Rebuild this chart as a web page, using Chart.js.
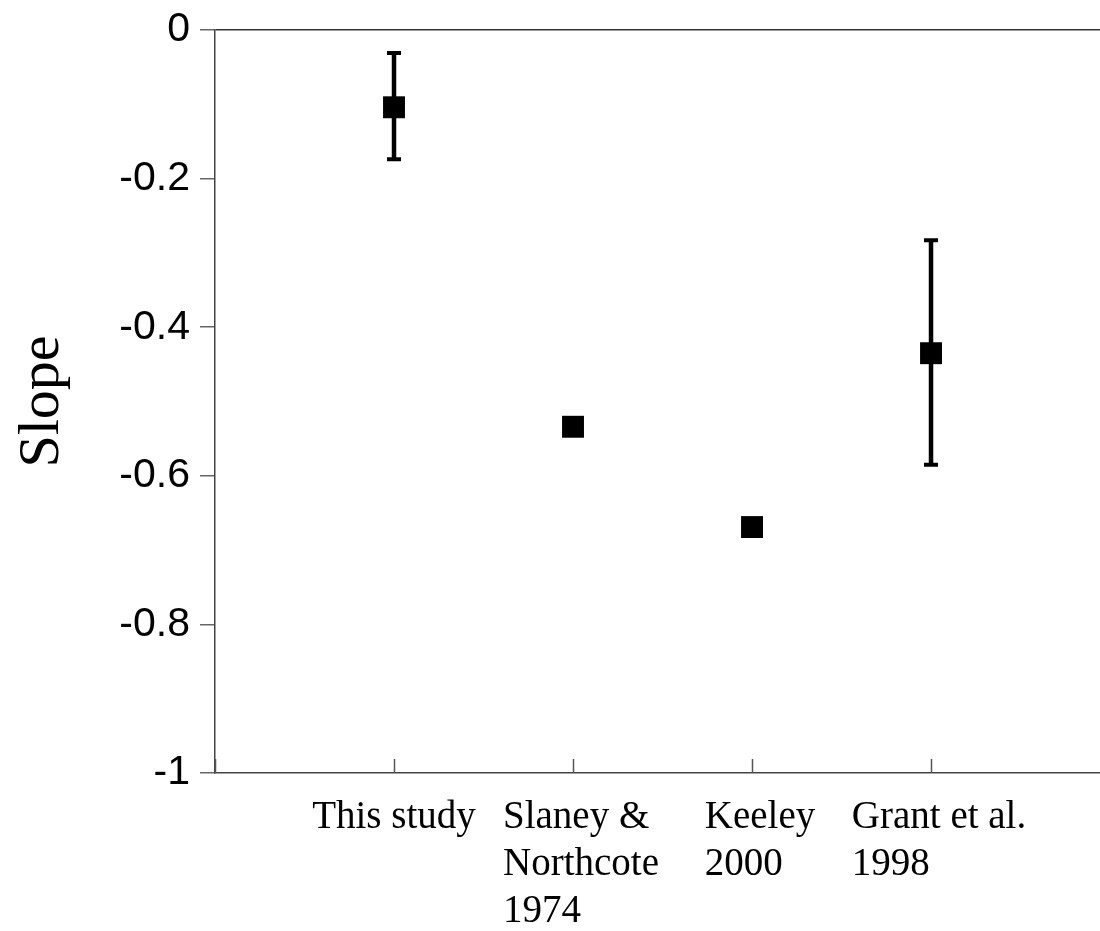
<!DOCTYPE html>
<html>
<head>
<meta charset="utf-8">
<script src="https://cdn.jsdelivr.net/npm/chart.js@4/dist/chart.umd.min.js"></script>
<style>
  html, body { margin: 0; padding: 0; background: #fff; }
  #wrap { width: 1100px; height: 931px; }
</style>
</head>
<body>
<div id="wrap"><canvas id="c" width="1100" height="931"></canvas></div>
<script>
// ---- data ----
const categories = [["This study"], ["Slaney &", "Northcote", "1974"], ["Keeley", "2000"], ["Grant et al.", "1998"]];
const xPositions = [1, 2, 3, 4];
const slopes = [-0.104, -0.534, -0.669, -0.435];
const errLow = [-0.174, null, null, -0.585];
const errHigh = [-0.031, null, null, -0.283];
const yTickValues = [0, -0.2, -0.4, -0.6, -0.8, -1];
const yTickLabels = ["0", "-0.2", "-0.4", "-0.6", "-0.8", "-1"];
const xTickValues = [0, 1, 2, 3, 4];

const points = slopes.map((v, i) => ({ x: xPositions[i], y: v }));

const extras = {
  id: 'extras',
  beforeDatasetsDraw(chart) {
    const ctx = chart.ctx, xs = chart.scales.x, ys = chart.scales.y;
    ctx.save();
    ctx.strokeStyle = '#000';
    ctx.lineCap = 'butt';
    for (let i = 0; i < slopes.length; i++) {
      if (errLow[i] === null) continue;
      const px = xs.getPixelForValue(xPositions[i]);
      const y1 = ys.getPixelForValue(errLow[i]);
      const y2 = ys.getPixelForValue(errHigh[i]);
      ctx.lineWidth = 4.5;
      ctx.beginPath(); ctx.moveTo(px, y1); ctx.lineTo(px, y2); ctx.stroke();
      ctx.lineWidth = 4;
      ctx.beginPath();
      ctx.moveTo(px - 7, y1); ctx.lineTo(px + 7, y1);
      ctx.moveTo(px - 7, y2); ctx.lineTo(px + 7, y2);
      ctx.stroke();
    }
    ctx.restore();
  },
  afterDraw(chart) {
    const ctx = chart.ctx, xs = chart.scales.x;
    ctx.save();
    // inward tick marks on x axis
    ctx.strokeStyle = '#555';
    ctx.lineWidth = 1.5;
    ctx.beginPath();
    xTickValues.forEach(v => {
      const px = Math.round(xs.getPixelForValue(v)) + 0.5;
      ctx.moveTo(px, xs.top); ctx.lineTo(px, xs.top - 14);
    });
    ctx.stroke();
    // category labels: left-aligned lines, block centred under tick
    ctx.fillStyle = '#000';
    ctx.font = '39px "Liberation Serif", "Times New Roman", serif';
    ctx.textAlign = 'left';
    ctx.textBaseline = 'alphabetic';
    categories.forEach((lines, i) => {
      const px = xs.getPixelForValue(xPositions[i]);
      const w = Math.max(...lines.map(l => ctx.measureText(l).width));
      const left = px - w / 2 + (lines.length > 1 ? 8 : 0);
      lines.forEach((l, j) => {
        ctx.fillText(l, left, xs.top + 55 + j * 47);
      });
    });
    ctx.restore();
  }
};

new Chart(document.getElementById('c'), {
  type: 'scatter',
  data: {
    datasets: [{
      data: points,
      pointStyle: 'rect',
      pointRadius: 15.5,
      pointHoverRadius: 15.5,
      backgroundColor: '#000',
      borderColor: '#000',
      borderWidth: 0
    }]
  },
  options: {
    responsive: false,
    animation: false,
    devicePixelRatio: 1,
    layout: { autoPadding: false, padding: { top: 30, right: 0, left: 0, bottom: 0 } },
    plugins: { legend: { display: false }, tooltip: { enabled: false } },
    scales: {
      x: {
        type: 'linear',
        position: 'bottom',
        min: 0,
        max: 4.944,
        grid: { display: false },
        border: { display: true, color: '#444', width: 1.5 },
        ticks: { display: false },
        afterFit(scale) { scale.height = 158; scale.paddingLeft = 0; scale.paddingRight = 0; }
      },
      y: {
        type: 'linear',
        min: -1,
        max: 0,
        afterBuildTicks(scale) { scale.ticks = yTickValues.map(v => ({ value: v })); },
        ticks: {
          color: '#000',
          padding: 10,
          font: { family: '"Liberation Sans", Arial, sans-serif', size: 41 },
          callback: (v, i) => yTickLabels[i]
        },
        grid: {
          drawOnChartArea: true,
          color: ctx => (ctx.tick && ctx.tick.value === 0) ? '#333' : 'rgba(0,0,0,0)',
          lineWidth: 1.5,
          tickColor: '#666',
          tickLength: 15
        },
        border: { display: true, color: '#444', width: 1.5 },
        title: {
          display: true,
          text: 'Slope',
          color: '#000',
          font: { family: '"Liberation Serif", "Times New Roman", serif', size: 58 },
          padding: { top: 8, bottom: 0 }
        },
        afterFit(scale) { scale.width = 215; scale.paddingTop = 0; scale.paddingBottom = 0; }
      }
    }
  },
  plugins: [extras]
});
</script>
</body>
</html>
